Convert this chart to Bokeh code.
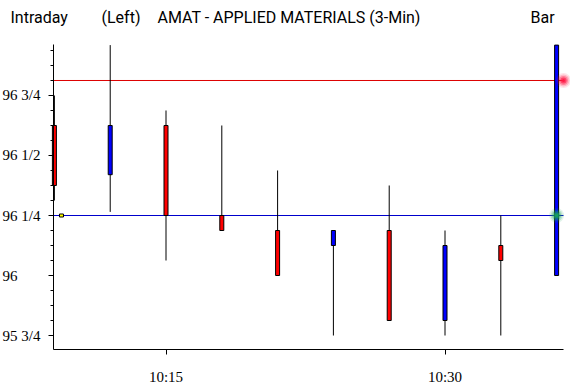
from bokeh.plotting import figure
from bokeh.models import FixedTicker, Label, LabelSet, ColumnDataSource, Range1d
from bokeh.embed import file_html
from bokeh.resources import INLINE

# ---- data (minutes after 10:00, 3-minute bars) ----
times = [9, 12, 15, 18, 21, 24, 27, 30, 33, 36]
opens = [96.625, 96.42, 96.625, 96.25, 96.1875, 96.125, 96.1875, 95.8125, 96.125, 96.0]
highs = [96.75, 96.96, 96.6875, 96.625, 96.4375, 96.1875, 96.375, 96.1875, 96.25, 96.96]
lows = [96.3125, 96.265, 96.0625, 96.1875, 96.0, 95.75, 95.8125, 95.75, 95.75, 96.0]
closes = [96.375, 96.625, 96.25, 96.1875, 96.0, 96.1875, 95.8125, 96.125, 96.0625, 96.96]

y_ticks = [95.75, 96.0, 96.25, 96.5, 96.75]
y_tick_labels = ["95 3/4", "96", "96 1/4", "96 1/2", "96 3/4"]
y_minor_ticks = [95.8125, 95.875, 95.9375, 96.0625, 96.125, 96.1875,
                 96.3125, 96.375, 96.4375, 96.5625, 96.625, 96.6875,
                 96.8125, 96.875, 96.9375]
x_ticks = [15, 30]
x_tick_labels = ["10:15", "10:30"]

# chart window (time axis and price axis extents)
t_first, t_last = 8.952, 36.371
p_low, p_high = 95.6917, 96.9625

upper_level = 96.8125
lower_level = 96.25
alert_times = [36.37, 36.0]
alert_levels = [upper_level, lower_level]
alert_colors = ["#FF1744", "#17A35A"]
marker_time = 9.38

header_texts = ["Intraday", "(Left)", "AMAT - APPLIED MATERIALS  (3-Min)", "Bar"]
header_x = [10, 101, 157, 530]

FONT = "Roboto"
FS_HEAD = "16px"
FS_TICK = "15px"

body_colors = ["#0000FF" if c >= o else "#FF0000" for o, c in zip(opens, closes)]
body_top = [max(o, c) for o, c in zip(opens, closes)]
body_bot = [min(o, c) for o, c in zip(opens, closes)]
src = ColumnDataSource(dict(t=times, high=highs, low=lows, top=body_top,
                            bottom=body_bot, color=body_colors))

p = figure(width=570, height=385, output_backend="svg", toolbar_location=None,
           x_range=Range1d(6.102, 36.747), y_range=Range1d(95.5417, 97.1458),
           min_border=0, min_border_left=0, min_border_right=0,
           min_border_top=0, min_border_bottom=0)
p.outline_line_color = None
p.xgrid.visible = False
p.ygrid.visible = False
p.background_fill_color = "white"
p.border_fill_color = "white"

# axes (drawn at the chart window edges)
xa = p.xaxis[0]
xa.fixed_location = p_low
xa.bounds = (t_first, t_last)
xa.ticker = FixedTicker(ticks=x_ticks, minor_ticks=[])
xa.major_label_overrides = {t: "" for t in x_ticks}
xa.major_label_text_font_size = "1px"
xa.major_tick_out = 5
xa.major_tick_in = 0
xa.minor_tick_out = 0
xa.axis_line_color = "black"
xa.major_label_standoff = 0

ya = p.yaxis[0]
ya.fixed_location = t_first
ya.bounds = (p_low, p_high)
ya.ticker = FixedTicker(ticks=y_ticks, minor_ticks=y_minor_ticks)
ya.major_label_overrides = {t: "" for t in y_ticks}
ya.major_label_text_font_size = "1px"
ya.major_tick_out = 5
ya.major_tick_in = 0
ya.minor_tick_out = 3
ya.minor_tick_in = 0
ya.axis_line_color = "black"
ya.major_label_standoff = 0

# horizontal levels
p.segment(x0=[t_first, t_first], x1=[t_last, t_last], y0=[upper_level, lower_level],
          y1=[upper_level, lower_level], line_color=["#DD0000", "#0000CC"], line_width=1)

# bars
p.segment(x0="t", x1="t", y0="low", y1="high", source=src, line_color="black",
          line_width=1)
p.vbar(x="t", width=0.215, top="top", bottom="bottom", source=src,
       fill_color="color", line_color="black", line_width=1)

# small marker on lower level
p.rect(x=[marker_time], y=[lower_level], width=4, height=3, width_units="screen",
       height_units="screen", fill_color="#FFFF00", line_color="black", line_width=1)

# glow dots
asrc = ColumnDataSource(dict(t=alert_times, y=alert_levels, c=alert_colors))
for size, alpha in [(15, 0.12), (12, 0.2), (9, 0.35), (6, 0.6), (3, 0.9)]:
    p.scatter(x="t", y="y", source=asrc, size=size, fill_color="c",
              line_color=None, fill_alpha=alpha)

# tick labels
ysrc = ColumnDataSource(dict(y=y_ticks, text=y_tick_labels))
p.add_layout(LabelSet(x=2, y="y", x_units="screen", text="text", source=ysrc,
                      text_align="left", text_baseline="middle",
                      text_font=FONT, text_font_size=FS_TICK, text_color="black"))
xsrc = ColumnDataSource(dict(x=x_ticks, text=x_tick_labels))
p.add_layout(LabelSet(x="x", y=4, y_units="screen", text="text", source=xsrc,
                      text_align="center", text_baseline="alphabetic",
                      text_font=FONT, text_font_size=FS_TICK, text_color="black"))

# header texts
for txt, xpos in zip(header_texts, header_x):
    p.add_layout(Label(x=xpos, y=368, x_units="screen", y_units="screen",
                       text=txt, text_align="left", text_baseline="alphabetic",
                       text_font=FONT, text_font_size=FS_HEAD, text_color="black"))

open("out.html", "w").write(file_html(p, INLINE))
